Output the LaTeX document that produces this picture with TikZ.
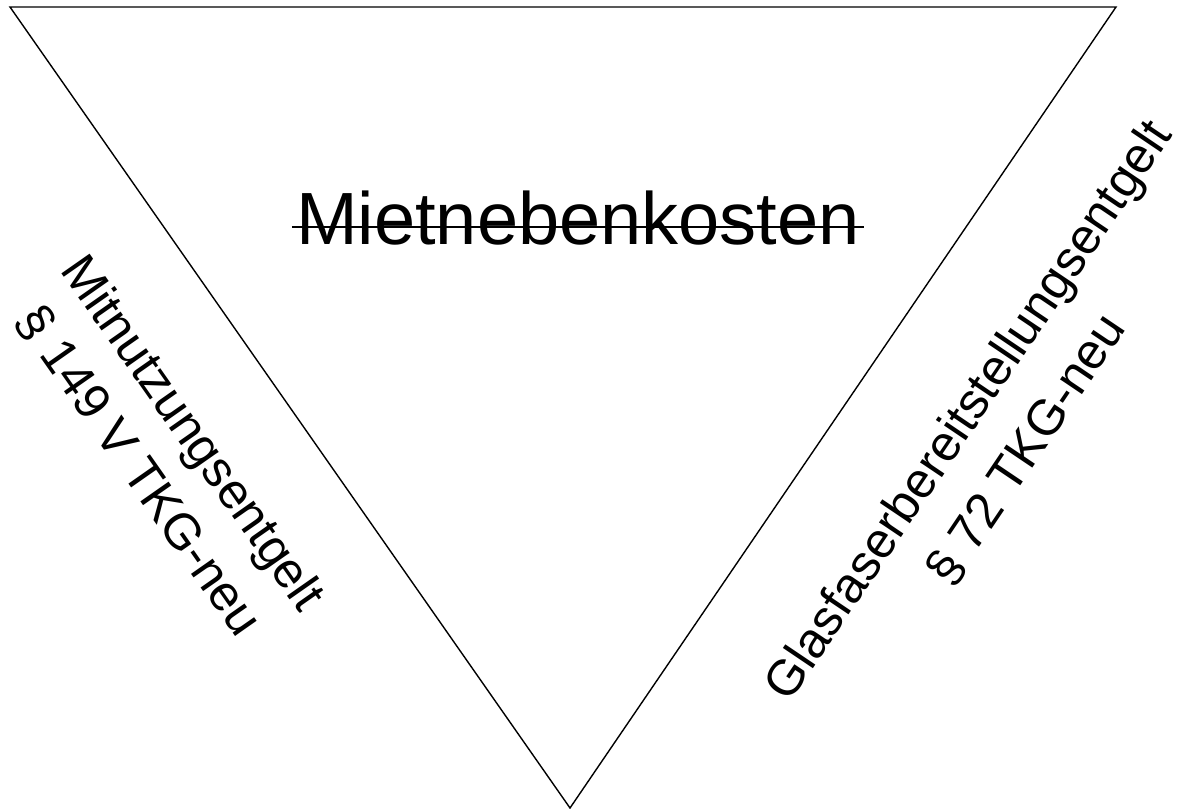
\documentclass[tikz,border=0pt]{standalone}
\usepackage{fontspec}
\setmainfont{Liberation Sans}
\usetikzlibrary{calc}
\begin{document}
\begin{tikzpicture}[x=0.5pt,y=-0.5pt,
  edge/.style={draw=black,line width=0.7pt,line join=miter},
  sidelabel/.style={align=center,inner sep=0pt,font=#1},
  strike/.style={draw=black,line width=1.4pt}]
\useasboundingbox (0,0) rectangle (1179,809);
\coordinate (tl) at (10,7);
\coordinate (tr) at (1116,7);
\coordinate (bt) at (570,808);
\draw[edge] (tl) -- (tr) -- (bt) -- cycle;
\node[inner sep=0pt,anchor=base,font=\fontsize{37pt}{44pt}\selectfont] (m) at (578,244) {Mietnebenkosten};
\draw[strike] ($(m.base west)+(-4,-17)$) -- ($(m.base east)+(4,-17)$);
\node[sidelabel={\fontsize{25pt}{33pt}\selectfont},rotate=-55] (l) at (166,452) {Mitnutzungsentgelt\\§ 149 V TKG-neu};
\node[sidelabel={\fontsize{25pt}{35pt}\selectfont},rotate=56] (r) at (997,430) {Glasfaserbereitstellungsentgelt\\§ 72 TKG-neu};
\end{tikzpicture}
\end{document}
